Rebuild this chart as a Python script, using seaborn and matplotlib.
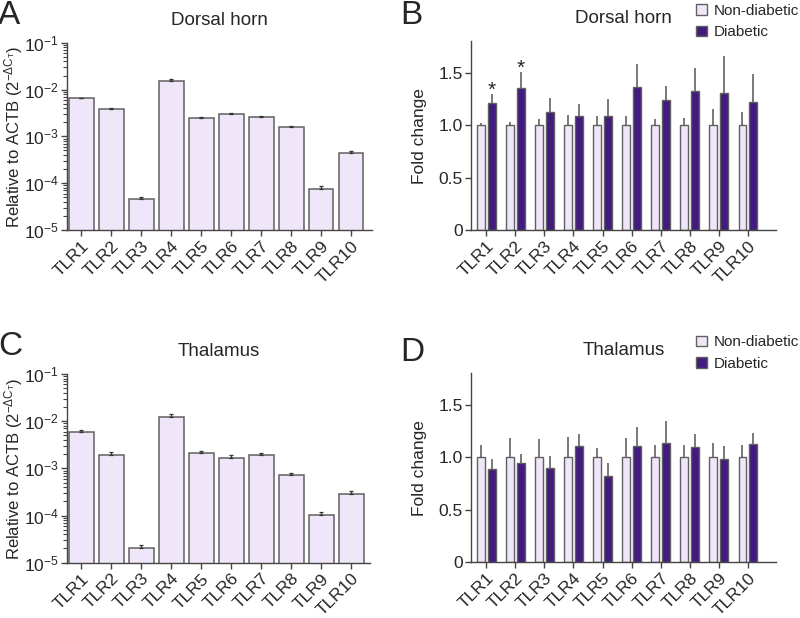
import numpy as np
import pandas as pd
import matplotlib
matplotlib.use("Agg")
import matplotlib.pyplot as plt
from matplotlib.ticker import FixedLocator, LogFormatterSciNotation, NullFormatter
import seaborn as sns

sns.set_style("ticks")
plt.rcParams['font.family'] = ['Liberation Sans', 'DejaVu Sans']
plt.rcParams['mathtext.fontset'] = 'custom'
plt.rcParams['mathtext.rm'] = 'Liberation Sans'
plt.rcParams['mathtext.it'] = 'Liberation Sans:italic'
plt.rcParams['mathtext.bf'] = 'Liberation Sans:bold'

genes = ["TLR1", "TLR2", "TLR3", "TLR4", "TLR5", "TLR6", "TLR7", "TLR8", "TLR9", "TLR10"]
groups = ["Non-diabetic", "Diabetic"]

# relative expression (2^-dCt), dorsal horn and thalamus
dh_rel = [6.5e-3, 3.9e-3, 4.6e-5, 1.55e-2, 2.45e-3, 2.95e-3, 2.55e-3, 1.6e-3, 7.5e-5, 4.4e-4]
dh_rel_err = [0.15e-3, 0.1e-3, 0.35e-5, 1.2e-3, 0.18e-3, 0.18e-3, 0.15e-3, 0.1e-3, 1.2e-5, 0.5e-4]
th_rel = [5.8e-3, 1.9e-3, 2.0e-5, 1.2e-2, 2.15e-3, 1.65e-3, 1.9e-3, 7.3e-4, 1.02e-4, 2.9e-4]
th_rel_err = [0.6e-3, 0.35e-3, 0.4e-5, 2.2e-3, 0.18e-3, 0.28e-3, 0.19e-3, 0.08e-3, 0.14e-4, 0.35e-4]

# fold change
dh_nd = [1.0] * 10
dh_nd_err = [0.022, 0.032, 0.063, 0.098, 0.092, 0.083, 0.06, 0.073, 0.159, 0.124]
dh_d = [1.213, 1.356, 1.127, 1.089, 1.083, 1.365, 1.238, 1.327, 1.311, 1.219]
dh_d_err = [0.089, 0.155, 0.133, 0.114, 0.165, 0.216, 0.137, 0.216, 0.346, 0.27]
dh_sig = [0, 1]

th_nd = [1.0] * 10
th_nd_err = [0.114, 0.187, 0.174, 0.196, 0.088, 0.18, 0.114, 0.12, 0.133, 0.117]
th_d = [0.889, 0.946, 0.896, 1.111, 0.823, 1.107, 1.136, 1.095, 0.988, 1.13]
th_d_err = [0.091, 0.089, 0.114, 0.107, 0.12, 0.178, 0.209, 0.123, 0.119, 0.097]
th_sig = []

log_decades = [-5, -4, -3, -2, -1]
fold_ticks = [0, 0.5, 1.0, 1.5]
fold_ticklabels = ["0", "0.5", "1.0", "1.5"]

light = "#F0E3FC"
dark = "#3F0A8F"
edge = "#606060"
errc = "#555555"
fs = 12.5


def style_axes(ax):
    sns.despine(ax=ax)
    for s in ["left", "bottom"]:
        ax.spines[s].set_color("#444444")
        ax.spines[s].set_linewidth(1.0)
    ax.tick_params(axis="both", which="major", length=4, width=1.0, color="#444444", labelsize=fs, pad=2)
    ax.set_xlabel("")
    plt.setp(ax.get_xticklabels(), rotation=45, ha="right", rotation_mode="anchor")


def rel_panel(ax, vals, errs, title, xr):
    sns.barplot(x=genes, y=vals, color=light, edgecolor=edge, linewidth=1.1,
                width=0.83, errorbar=None, ax=ax)
    ax.set_yscale("log")
    ax.set_ylim(1e-5, 1e-1)
    bars = ax.containers[0]
    xs = [b.get_x() + b.get_width() / 2 for b in bars]
    ax.errorbar(xs, vals, yerr=[np.zeros(len(vals)), errs], fmt="none",
                ecolor="#333333", elinewidth=0.9, capsize=1.5, capthick=0.9)
    ax.set_xlim(-0.47, xr)
    ax.set_ylabel(r"Relative to ACTB (2$^{\mathdefault{-\Delta C_T}}$)", fontsize=12)
    ax.yaxis.set_label_coords(-0.138, 0.5)
    ax.set_title(title, fontsize=13.5, pad=13)
    style_axes(ax)
    majors = [10.0 ** e for e in log_decades]
    minors = [m * 10.0 ** e for e in log_decades[:-1] for m in range(2, 10)]
    ax.yaxis.set_major_locator(FixedLocator(majors))
    ax.yaxis.set_major_formatter(LogFormatterSciNotation())
    ax.yaxis.set_minor_locator(FixedLocator(minors))
    ax.yaxis.set_minor_formatter(NullFormatter())
    ax.tick_params(axis="y", which="minor", left=True, length=3, width=0.8, color="#444444")


def fold_panel(ax, nd, nd_err, d, d_err, sig, title):
    df = pd.DataFrame({
        "gene": genes * 2,
        "group": [groups[0]] * 10 + [groups[1]] * 10,
        "value": nd + d,
    })
    sns.barplot(data=df, x="gene", y="value", hue="group", hue_order=groups,
                palette={groups[0]: light, groups[1]: dark}, edgecolor=edge,
                linewidth=1.0, width=0.75, gap=0.3, errorbar=None, ax=ax)
    for cont, means, errs in zip(ax.containers, [nd, d], [nd_err, d_err]):
        xs = [b.get_x() + b.get_width() / 2 for b in cont]
        ax.errorbar(xs, means, yerr=[np.zeros(len(means)), errs], fmt="none",
                    ecolor=errc, elinewidth=1.1, capsize=0)
        if means is d:
            for i in sig:
                ax.text(xs[i], d[i] + d_err[i] + 0.035, "*", ha="center", va="center",
                        fontsize=15)
    ax.set_ylim(0, 1.8)
    ax.set_xlim(-0.52, 9.97)
    ax.set_yticks(fold_ticks)
    ax.set_yticklabels(fold_ticklabels)
    ax.set_ylabel("Fold change", fontsize=12.5, labelpad=8)
    ax.set_title(title, fontsize=13.5, pad=13)
    ax.legend(loc="upper left", bbox_to_anchor=(0.738, 1.2), frameon=False,
              fontsize=11, handlelength=0.7, handleheight=0.7,
              handletextpad=0.45, labelspacing=0.5, borderaxespad=0, borderpad=0)
    style_axes(ax)


fig = plt.figure(figsize=(8, 6.18), dpi=100)
axA = fig.add_axes([0.084, 0.628, 0.381, 0.3026])
axB = fig.add_axes([0.589, 0.628, 0.381, 0.305])
axC = fig.add_axes([0.084, 0.0895, 0.379, 0.3053])
axD = fig.add_axes([0.589, 0.090, 0.381, 0.306])

rel_panel(axA, dh_rel, dh_rel_err, "Dorsal horn", 9.7)
rel_panel(axC, th_rel, th_rel_err, "Thalamus", 9.63)
fold_panel(axB, dh_nd, dh_nd_err, dh_d, dh_d_err, dh_sig, "Dorsal horn")
fold_panel(axD, th_nd, th_nd_err, th_d, th_d_err, th_sig, "Thalamus")

for lab, x, y in [("A", -0.002, 1.0), ("B", 0.5, 1.0), ("C", -0.002, 0.465), ("D", 0.5, 0.455)]:
    fig.text(x, y, lab, fontsize=24, va="top", ha="left")

fig.savefig("out.png", dpi=100)
